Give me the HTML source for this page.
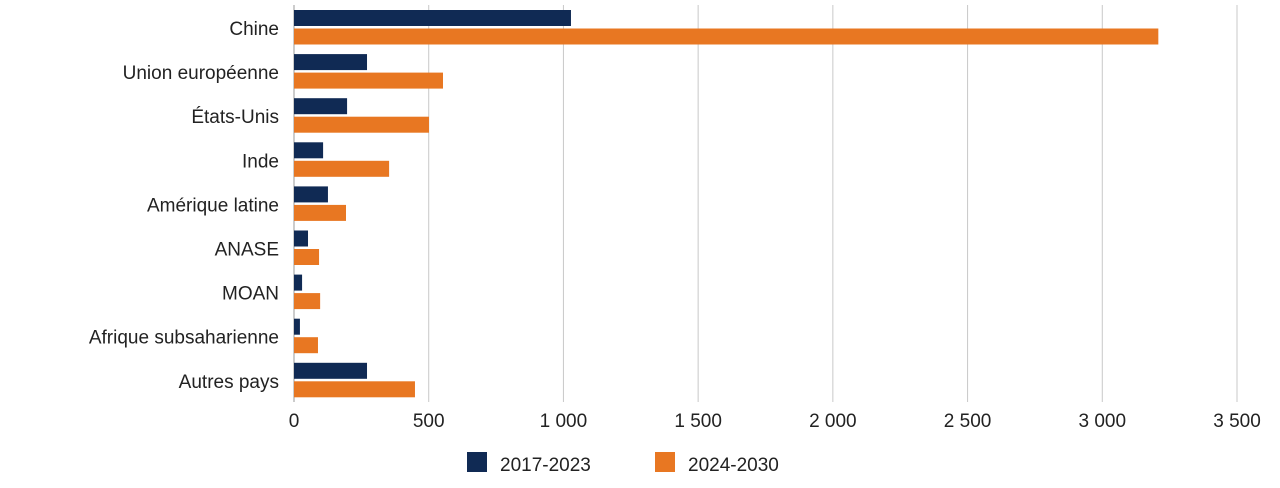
<!DOCTYPE html>
<html><head><meta charset="utf-8"><style>
body{margin:0;background:#fff;font-family:"Liberation Sans",sans-serif;}
text{font-family:"Liberation Sans",sans-serif;fill:#222;}
</style></head><body>
<svg id="chart" width="1280" height="483">
<g id="grid"></g><g id="bars"></g><g id="labels"></g>
<g>
<rect x="467" y="452" width="20" height="20" fill="#102a54"/>
<text x="500" y="471" font-size="19">2017-2023</text>
<rect x="655" y="452" width="20" height="20" fill="#e87722"/>
<text x="688" y="471" font-size="19">2024-2030</text>
</g>
</svg>
<script>
const categories=["Chine","Union européenne","États-Unis","Inde","Amérique latine","ANASE","MOAN","Afrique subsaharienne","Autres pays"];
const series2017=[1028,271,197,108,126,52,30,22,271];
const series2024=[3208,553,501,353,193,93,97,89,449];
const ticks=[0,500,1000,1500,2000,2500,3000,3500];
const tickLabels=["0","500","1 000","1 500","2 000","2 500","3 000","3 500"];
const NS="http://www.w3.org/2000/svg";
const x=v=>294+v*(1237-294)/3500;
const rowY=i=>28+i*44.1;
function mk(t,a,p){const e=document.createElementNS(NS,t);for(const k in a)e.setAttribute(k,a[k]);p.appendChild(e);return e;}
const grid=document.getElementById('grid'),bars=document.getElementById('bars'),labels=document.getElementById('labels');
ticks.forEach((t,i)=>{
 const l=mk('line',{x1:x(t),x2:x(t),y1:5,y2:402,stroke:i==0?'#999':'#c8c8c8','stroke-width':1},grid);
 
 
 const tx=mk('text',{x:x(t),y:427,'font-size':19,'text-anchor':'middle'},labels);
 tx.textContent=tickLabels[i];
 
 
});
categories.forEach((c,i)=>{
 const y=rowY(i);
 const b1=mk('rect',{x:x(0),y:y-18,width:x(series2017[i])-x(0),height:16,fill:'#102a54'},bars);
 
 
 const b2=mk('rect',{x:x(0),y:y+0.5,width:x(series2024[i])-x(0),height:16,fill:'#e87722'},bars);
 
 
 const t=mk('text',{x:279,y:y+7,'font-size':19,'text-anchor':'end'},labels);
 t.textContent=c;
 
 
});
</script>
</body></html>
